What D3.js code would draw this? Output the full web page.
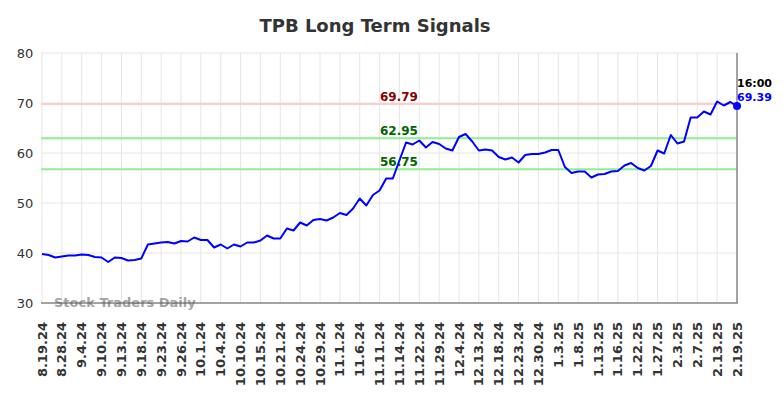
<!DOCTYPE html>
<html>
<head>
<meta charset="utf-8">
<script src="https://cdn.jsdelivr.net/npm/d3@7"></script>
<style>
  html, body { margin: 0; padding: 0; background: #fff; }
  svg { display: block; font-family: "DejaVu Sans", sans-serif; }
</style>
</head>
<body>
<svg id="chart" width="784" height="398"></svg>
<script>
const title = "TPB Long Term Signals";
const tickLabels = ["8.19.24","8.28.24","9.4.24","9.10.24","9.13.24","9.18.24","9.23.24","9.26.24","10.1.24","10.4.24","10.10.24","10.15.24","10.21.24","10.24.24","10.29.24","11.1.24","11.6.24","11.11.24","11.14.24","11.22.24","11.29.24","12.4.24","12.13.24","12.18.24","12.23.24","12.30.24","1.3.25","1.8.25","1.13.25","1.16.25","1.22.25","1.27.25","2.3.25","2.7.25","2.13.25","2.19.25"];
const prices = [39.8,39.6,39.1,39.3,39.5,39.5,39.7,39.6,39.2,39.1,38.2,39.1,39.0,38.5,38.6,38.9,41.7,41.9,42.1,42.2,41.9,42.4,42.3,43.1,42.6,42.6,41.1,41.7,40.9,41.7,41.3,42.1,42.1,42.5,43.5,42.9,42.9,44.9,44.5,46.1,45.5,46.6,46.8,46.5,47.1,48.0,47.6,48.9,50.9,49.5,51.6,52.5,54.9,54.9,58.5,62.1,61.7,62.5,61.1,62.2,61.8,60.9,60.5,63.2,63.8,62.3,60.5,60.7,60.5,59.2,58.7,59.1,58.1,59.6,59.8,59.8,60.1,60.6,60.6,57.2,56.0,56.3,56.3,55.1,55.7,55.8,56.3,56.4,57.5,58.0,57.0,56.5,57.4,60.5,59.9,63.6,61.9,62.3,67.1,67.1,68.3,67.7,70.3,69.5,70.2,69.39];
const levels = [69.79, 62.95, 56.75];
const levelLineColors = ["#ffcccc", "#90ee90", "#90ee90"];
const levelTextColors = ["#8b0000", "#006400", "#006400"];
const yTicks = [30, 40, 50, 60, 70, 80];
const lastTime = "16:00";
const watermark = "Stock Traders Daily";
const labelEvery = 3;

const svg = d3.select("#chart");
const margin = {left: 41, right: 46, top: 53, bottom: 95};
const W = 784, H = 398;

const x = d3.scaleLinear().domain([0, prices.length - 1]).range([margin.left + 1, W - margin.right - 1]);
const y = d3.scaleLinear().domain([30, 80]).range([H - margin.bottom, margin.top]);

// title
svg.append("text").attr("x", 375).attr("y", 32).attr("text-anchor", "middle")
  .attr("font-size", 18).attr("font-weight", "bold").attr("fill", "#333").text(title);

// grid
const tickIdx = tickLabels.map((d, i) => i * labelEvery);
svg.append("g").selectAll("line").data(tickIdx).join("line")
  .attr("x1", d => x(d)).attr("x2", d => x(d))
  .attr("y1", y(80)).attr("y2", y(30))
  .attr("stroke", "#e6e6e6").attr("stroke-width", 1);
svg.append("g").selectAll("line").data(yTicks).join("line")
  .attr("x1", margin.left).attr("x2", x(prices.length - 1))
  .attr("y1", d => y(d)).attr("y2", d => y(d))
  .attr("stroke", "#e6e6e6").attr("stroke-width", 1);

// y axis labels
svg.append("g").selectAll("text").data(yTicks).join("text")
  .attr("x", 25).attr("y", d => y(d) + 5).attr("text-anchor", "middle")
  .attr("font-size", 13).attr("fill", "#333").text(d => d);

// level lines
levels.forEach((lv, i) => {
  svg.append("line").attr("x1", margin.left).attr("x2", x(prices.length - 1))
    .attr("y1", y(lv)).attr("y2", y(lv))
    .attr("stroke", levelLineColors[i]).attr("stroke-width", 2);
  svg.append("text").attr("x", 399).attr("y", y(lv) - 3).attr("text-anchor", "middle")
    .attr("font-size", 12).attr("font-weight", "bold").attr("fill", levelTextColors[i])
    .text(lv.toFixed(2));
});

// watermark
svg.append("text").attr("x", 54).attr("y", y(30) + 4)
  .attr("font-size", 13).attr("font-weight", "bold").attr("fill", "#999").attr("fill-opacity", 0.9)
  .text(watermark);

// axes lines
svg.append("line").attr("x1", margin.left).attr("x2", x(prices.length - 1) + 1)
  .attr("y1", y(30)).attr("y2", y(30)).attr("stroke", "#555").attr("stroke-width", 1.2);
svg.append("line").attr("x1", x(prices.length - 1)).attr("x2", x(prices.length - 1))
  .attr("y1", y(80)).attr("y2", y(30)).attr("stroke", "#888").attr("stroke-width", 1.5);

// price line
const line = d3.line().x((d, i) => x(i)).y(d => y(d));
svg.append("path").datum(prices).attr("d", line)
  .attr("fill", "none").attr("stroke", "#0000ff").attr("stroke-width", 2).attr("stroke-linejoin", "round");

// last dot
const lastI = prices.length - 1;
svg.append("circle").attr("cx", x(lastI)).attr("cy", y(prices[lastI])).attr("r", 4).attr("fill", "#0000ff");

svg.append("text").attr("x", x(lastI)).attr("y", y(prices[lastI]) - 19)
  .attr("font-size", 11).attr("font-weight", "bold").attr("fill", "#000").text(lastTime);
svg.append("text").attr("x", x(lastI)).attr("y", y(prices[lastI]) - 5)
  .attr("font-size", 11).attr("font-weight", "bold").attr("fill", "#0000ff").text(prices[lastI].toFixed(2));

// x labels
svg.append("g").selectAll("text").data(tickLabels).join("text")
  .attr("transform", (d, i) => `translate(${x(i * labelEvery) + 4.5},${y(30) + 19}) rotate(-90)`)
  .attr("text-anchor", "end")
  .attr("font-size", 13).attr("font-weight", "bold").attr("fill", "#333").text(d => d);
</script>
</body>
</html>
